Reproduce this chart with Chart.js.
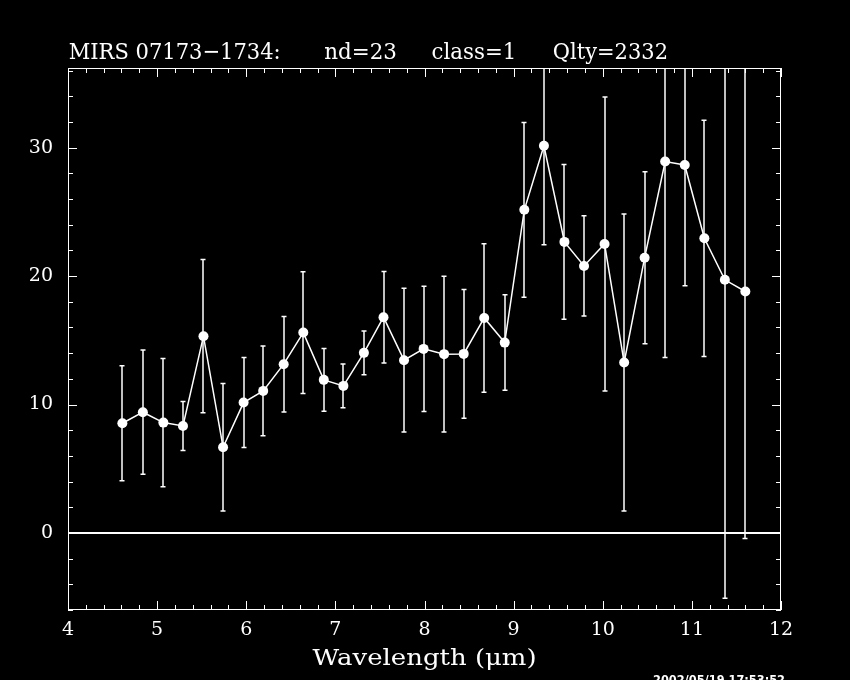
<!DOCTYPE html>
<html>
<head>
<meta charset="utf-8">
<script src="https://cdn.jsdelivr.net/npm/chart.js@4.4.0/dist/chart.umd.min.js"></script>
<style>
  html, body { margin: 0; padding: 0; background: #000; }
  canvas { display: block; }
</style>
</head>
<body>
<canvas id="spec" width="850" height="680"></canvas>
<script>
const wavelength = [4.61, 4.84, 5.07, 5.29, 5.52, 5.74, 5.97, 6.19, 6.42, 6.64, 6.87,
                    7.09, 7.32, 7.54, 7.77, 7.99, 8.22, 8.44, 8.67, 8.90, 9.12, 9.34,
                    9.57, 9.79, 10.02, 10.24, 10.47, 10.70, 10.92, 11.14, 11.37, 11.60];
const flux = [8.54, 9.40, 8.59, 8.33, 15.32, 6.67, 10.15, 11.06, 13.14, 15.60, 11.92,
              11.45, 14.02, 16.80, 13.45, 14.33, 13.92, 13.94, 16.74, 14.82, 25.16, 30.14,
              22.66, 20.79, 22.50, 13.27, 21.43, 28.92, 28.65, 22.94, 19.71, 18.80];
const fluxErr = [4.48, 4.84, 5.00, 1.91, 5.97, 4.97, 3.50, 3.50, 3.72, 4.74, 2.45,
                 1.70, 1.70, 3.56, 5.60, 4.87, 6.07, 5.02, 5.78, 3.72, 6.80, 7.70,
                 6.02, 3.90, 11.45, 11.57, 6.70, 15.26, 9.40, 9.20, 24.80, 19.24];

const yTickValues = [0, 10, 20, 30];
const titleParts = ['MIRS 07173\u22121734:', 'nd=23', 'class=1', 'Qlty=2332'];
const xAxisTitle = 'Wavelength (\u03bcm)';
const stamp = '2002/05/19 17:53:52';

const serif = '"DejaVu Serif", "Liberation Serif", serif';

// Texto ajustado a un ancho dado (la fuente de PGPLOT es más ancha)
function fitText(ctx, str, left, baseline, width) {
    const w = ctx.measureText(str).width;
    ctx.save();
    ctx.translate(left, baseline);
    ctx.scale(width / w, 1);
    ctx.fillText(str, 0, 0);
    ctx.restore();
}

// Barras de error (antes de los puntos)
const errorBars = {
    id: 'errorBars',
    beforeDatasetsDraw(chart) {
        const { ctx, chartArea: a } = chart;
        const xs = chart.scales.x, ys = chart.scales.y;
        ctx.save();
        ctx.beginPath();
        ctx.rect(a.left, a.top, a.right - a.left, a.bottom - a.top);
        ctx.clip();
        ctx.strokeStyle = '#fff';
        ctx.lineWidth = 1.5;
        for (let i = 0; i < flux.length; i++) {
            const px = Math.round(xs.getPixelForValue(wavelength[i]));
            const hi = ys.getPixelForValue(flux[i] + fluxErr[i]);
            const lo = ys.getPixelForValue(flux[i] - fluxErr[i]);
            ctx.beginPath();
            ctx.moveTo(px, hi); ctx.lineTo(px, lo);
            ctx.moveTo(px - 2.5, hi); ctx.lineTo(px + 2.5, hi);
            ctx.moveTo(px - 2.5, lo); ctx.lineTo(px + 2.5, lo);
            ctx.stroke();
        }
        ctx.restore();
    }
};

// Marco, marcas hacia dentro y línea del cero
const frame = {
    id: 'frame',
    beforeDatasetsDraw(chart) {
        const { ctx, chartArea: a } = chart;
        const xs = chart.scales.x, ys = chart.scales.y;
        ctx.save();
        ctx.strokeStyle = '#fff';
        ctx.lineWidth = 1;
        ctx.strokeRect(a.left + 0.5, a.top + 0.5, a.right - a.left - 1, a.bottom - a.top - 1);
        ctx.beginPath();
        for (let k = 0; k <= 40; k++) {
            const v = 4 + k * 0.2;
            const len = k % 5 === 0 ? 9 : 5;
            const px = Math.round(xs.getPixelForValue(v)) + 0.5;
            ctx.moveTo(px, a.bottom); ctx.lineTo(px, a.bottom - len);
            ctx.moveTo(px, a.top); ctx.lineTo(px, a.top + len);
        }
        for (let v = -6; v <= 36; v += 2) {
            const len = v % 10 === 0 ? 9 : 5;
            const py = Math.round(ys.getPixelForValue(v)) + 0.5;
            ctx.moveTo(a.left, py); ctx.lineTo(a.left + len, py);
            ctx.moveTo(a.right, py); ctx.lineTo(a.right - len, py);
        }
        ctx.stroke();
        const z = Math.round(ys.getPixelForValue(0));
        ctx.lineWidth = 2;
        ctx.beginPath();
        ctx.moveTo(a.left, z); ctx.lineTo(a.right, z);
        ctx.stroke();
        ctx.restore();
    }
};

// Título, etiqueta del eje X y sello de fecha
const labels = {
    id: 'labels',
    afterDraw(chart) {
        const ctx = chart.ctx;
        ctx.save();
        ctx.fillStyle = '#fff';
        ctx.textBaseline = 'alphabetic';
        ctx.font = '23px ' + serif;
        const starts = [68.7, 324.3, 431.6, 552.8];
        const widths = [212, 72.7, 84.7, 115.2];
        titleParts.forEach((t, i) => fitText(ctx, t, starts[i], 59, widths[i]));
        ctx.font = '23px ' + serif;
        fitText(ctx, xAxisTitle, 312.6, 665, 224);
        ctx.font = 'bold 12px "DejaVu Sans", sans-serif';
        fitText(ctx, stamp, 653, 684, 132);
        ctx.restore();
    }
};

new Chart(document.getElementById('spec'), {
    type: 'line',
    data: {
        datasets: [{
            data: wavelength.map((w, i) => ({ x: w, y: flux[i] })),
            borderColor: '#fff',
            borderWidth: 1.5,
            backgroundColor: '#fff',
            pointRadius: 5,
            pointBorderWidth: 0,
            pointBackgroundColor: '#fff',
            tension: 0
        }]
    },
    options: {
        responsive: false,
        animation: false,
        events: [],
        layout: { padding: { left: 0, right: 69, top: 68, bottom: 0 } },
        plugins: {
            legend: { display: false },
            tooltip: { enabled: false }
        },
        scales: {
            x: {
                type: 'linear',
                min: 4,
                max: 12,
                grid: { display: false, drawTicks: false },
                border: { display: false },
                afterFit(scale) { scale.height = 70; },
                ticks: {
                    stepSize: 1,
                    color: '#fff',
                    padding: 9,
                    maxRotation: 0,
                    font: { family: serif, size: 19 }
                }
            },
            y: {
                type: 'linear',
                min: -6,
                max: 36.2,
                grid: { display: false, drawTicks: false },
                border: { display: false },
                afterFit(scale) { scale.width = 68; },
                afterBuildTicks(scale) {
                    scale.ticks = yTickValues.map(v => ({ value: v }));
                },
                ticks: {
                    color: '#fff',
                    padding: 15,
                    font: { family: serif, size: 19 }
                }
            }
        }
    },
    plugins: [frame, errorBars, labels]
});
</script>
</body>
</html>
